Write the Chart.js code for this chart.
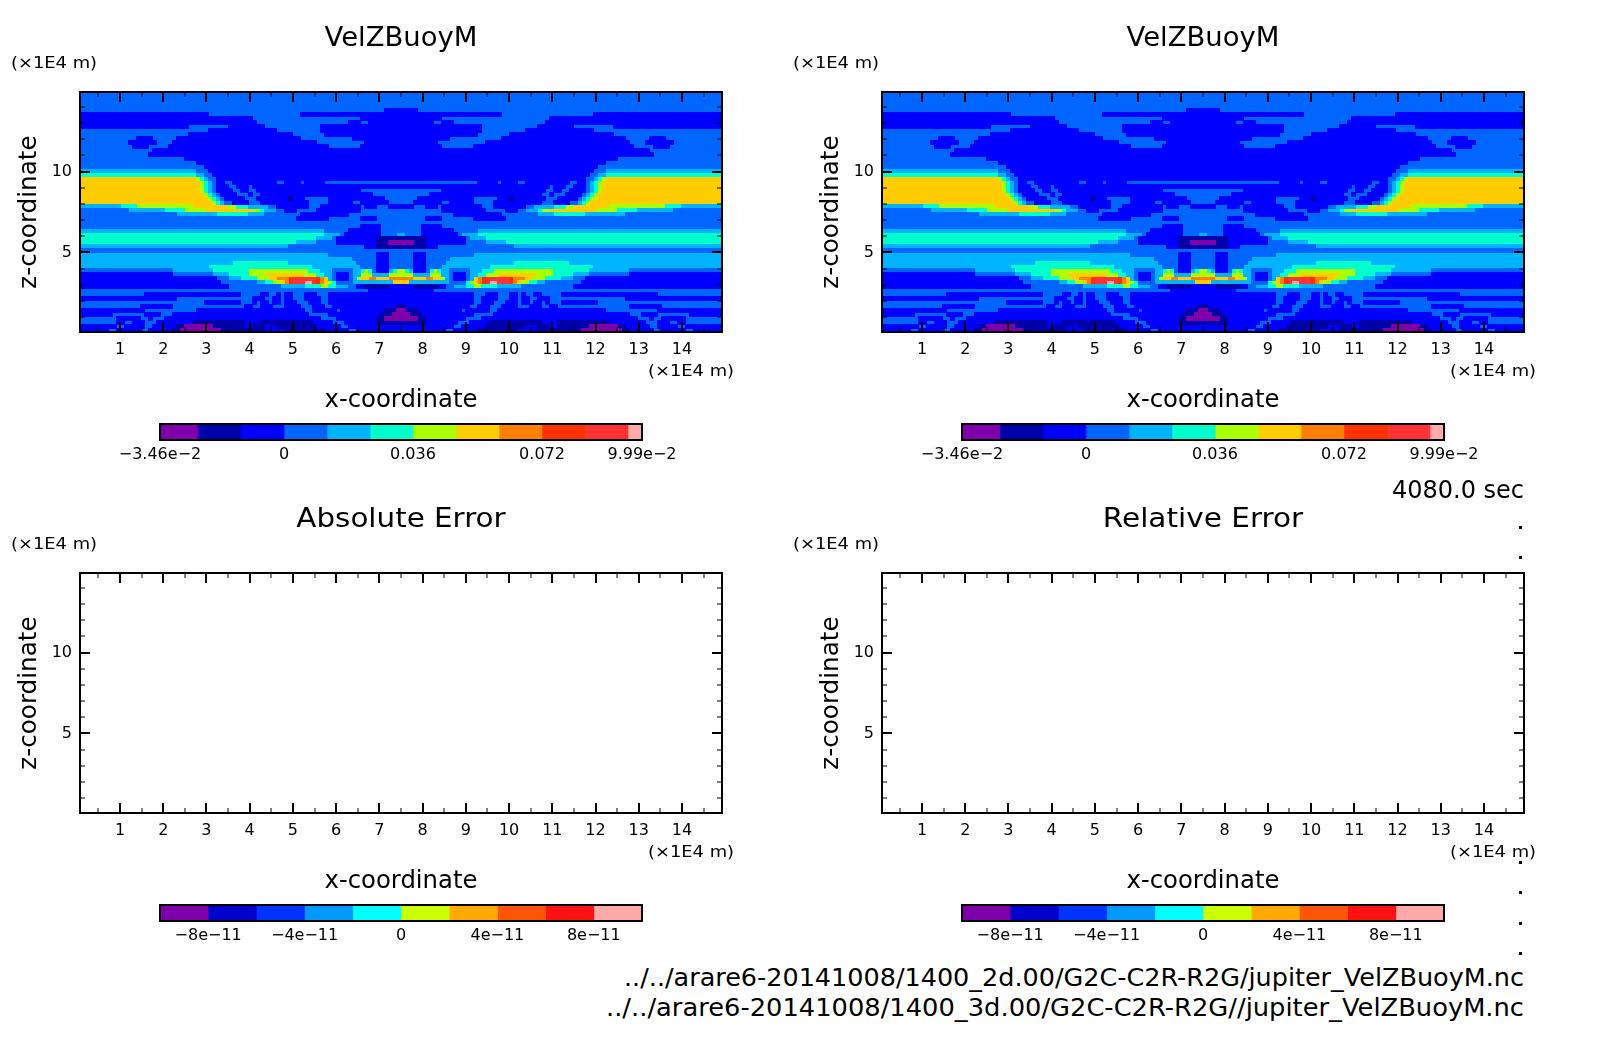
<!DOCTYPE html>
<html>
<head>
<meta charset="utf-8">
<title>VelZBuoyM</title>
<script src="https://cdn.jsdelivr.net/npm/chart.js@4"></script>
<style>
html, body { margin: 0; padding: 0; background: #fff; }
#page { position: relative; width: 1604px; height: 1054px; overflow: hidden; }
#page canvas { position: absolute; }
.txt { position: absolute; white-space: nowrap; color: #000; font-family: "DejaVu Sans", sans-serif; line-height: 1; }
.dot { position: absolute; width: 3px; height: 3px; background: #000; }
</style>
</head>
<body>
<div id="page"></div>
<script>
// axis range and ticks (x1E4 m)
const xRange = [0.075, 14.925];
const yRange = [0.075, 14.925];
const xTicks = [0.5, 1, 1.5, 2, 2.5, 3, 3.5, 4, 4.5, 5, 5.5, 6, 6.5, 7, 7.5, 8, 8.5, 9, 9.5, 10, 10.5, 11, 11.5, 12, 12.5, 13, 13.5, 14, 14.5];
const xTickLabels = [1, 2, 3, 4, 5, 6, 7, 8, 9, 10, 11, 12, 13, 14];
const yTicks = [1, 2, 3, 4, 5, 6, 7, 8, 9, 10, 11, 12, 13, 14];
const yTickLabels = [5, 10];

// colour bands, top row panels
const velLevels = 'abcdefghijkl';
const velColors = ['#7f00aa', '#0000aa', '#0000ff', '#0066ff', '#00b4ff', '#00ffcc', '#aaff00', '#ffcc00', '#ff7f00', '#ff3000', '#ff3333', '#ffaaaa'];
const velEdges = [-0.0346, -0.024, -0.012, 0, 0.012, 0.024, 0.036, 0.048, 0.06, 0.072, 0.084, 0.096, 0.0999];
const velBarTicks = [-0.0346, 0, 0.036, 0.072, 0.0999];
const velBarLabels = ['\u22123.46e\u22122', '0', '0.036', '0.072', '9.99e\u22122'];

// colour bands, error panels
const errColors = ['#7f00aa', '#0000cc', '#0033ff', '#0099ff', '#00ffff', '#ccff00', '#ffaa00', '#ff5500', '#ff1111', '#ffaaaa'];
const errEdges = [-1e-10, -8e-11, -6e-11, -4e-11, -2e-11, 0, 2e-11, 4e-11, 6e-11, 8e-11, 1e-10];
const errBarTicks = [-8e-11, -4e-11, 0, 4e-11, 8e-11];
const errBarLabels = ['\u22128e\u221211', '\u22124e\u221211', '0', '4e\u221211', '8e\u221211'];

// VelZBuoyM bands: west half of the domain (mirror symmetric),
// top row first, each row is run length coded as level + number of cells
const halfRows = [
  'd80', 'd80', 'd80', 'd80', 'd76 c4',
  'c32 d23 c25',
  'c43 d27 c10',
  'c44 d23 c3 d2 c8',
  'c27 d10 c9 d14 c20',
  'd32 c17 d11 c20',
  'd27 c26 d8 c19',
  'd14 c4 d6 c31 d13 c12',
  'd12 c7 d4 c36 d12 c9',
  'd13 c4 d5 c40 d8 c10',
  'd18 c62',
  'd17 c63',
  'd26 c54',
  'd29 c51',
  'd31 c49',
  'e29 d3 c48',
  'f29 e2 d2 c47',
  'h29 g1 f1 e1 d2 c46',
  'h30 g1 f1 e1 d1 c2 d2 c11 d2 c4 d1 c5 d19',
  'h30 g1 f1 e1 d1 c3 d2 c3 d1 c37',
  'h30 g1 f1 e1 d1 c4 d2 c2 d2 c26 d10',
  'h31 g1 f1 e1 d1 c4 d3 c1 d2 c28 d7',
  'h32 g1 f1 e1 d1 c5 d3 c8 b1 c3 d6 c14 d4',
  'h33 g1 f1 e1 d2 c4 d3 c12 d5 c6 d2 c7 d3',
  'e10 f4 g14 h9 g2 f3 e5 d2 c8 d3 c10 d1 c3 d3 c3',
  'd12 e9 f5 g5 h12 g2 f1 e3 d2 c3 d5 c11 d10',
  'd24 e10 f8 e4 d9 c12 d13',
  'd54 c8 d8 c4 d6',
  'd80',
  'd70 c5 d5',
  'e61 d6 c8 d5',
  'f61 e4 d1 c9 d4 e1',
  'f59 e4 d1 c10 b6',
  'f54 e5 d5 c10 b3 a3',
  'e52 d19 c3 b6',
  'd80',
  'e62 d12 c3 d3',
  'e68 d6 c3 d3',
  'e38 f14 e17 d5 c3 d3',
  'e32 f26 e12 d4 c3 d3',
  'd23 e10 f9 g15 f3 e3 d5 e2 f1 g1 f1 d1 c3 e1 f1 g1',
  'c23 d10 e4 f5 g4 h10 g3 f2 e2 d1 c3 d1 e2 g3 e4 g3',
  'c34 d3 e3 f4 g3 h2 i3 j1 k6 j1 i1 h1 e1 d1 c3 d1 e1 g1 h2 i2 h3 i3',
  'c35 d9 e2 f2 g2 h1 i1 j1 k3 l2 k1 j1 i1 h1 g1 f1 d4 e10 h2',
  'c37 d13 e6 f4 g2 f2 e3 d2 c2 b6 c3',
  'd72 c8',
  'd16 c24 d5 c2 d2 c1 d1 c2 d3 c3 d3 c18',
  'c24 d19 c3 d2 c2 d1 c2 d3 c4 d2 c18',
  'd31 c9 d3 c1 d1 c2 d1 c2 d1 c3 d3 c3 d2 c18',
  'd15 c8 d18 c2 d2 c3 d3 c4 d3 c3 d2 c16 b1',
  'c16 d13 c27 d2 c6 d1 c11 b3 a1',
  'c8 d8 c4 d3 c34 d5 c13 b3 a2',
  'd9 c6 d2 c1 d3 c39 d4 c10 b2 a4',
  'd9 c2 d2 c3 d3 c9 b13 c4 b13 c5 d3 c8 b6',
  'c9 d2 c5 d2 c6 b2 a7 b8 c2 b3 c3 b10 c6 d2 c13',
  'c7 d2 c6 d2 c6 b2 a10 b11 c5 b10 c6 d2 c11'
];

const page = document.getElementById('page');

function addText(str, cx, cy, size, width, rotate) {
  const el = document.createElement('span');
  el.className = 'txt';
  el.textContent = str;
  el.style.fontSize = size + 'px';
  el.style.left = cx + 'px';
  el.style.top = cy + 'px';
  page.appendChild(el);
  const sx = width / el.offsetWidth;
  el.style.transform = 'translate(-50%,-50%)' + (rotate ? ' rotate(-90deg)' : '') + ' scaleX(' + sx + ')';
}

function addCanvas(left, top, w, h) {
  const c = document.createElement('canvas');
  c.width = w;
  c.height = h;
  c.style.left = left + 'px';
  c.style.top = top + 'px';
  c.style.width = w + 'px';
  c.style.height = h + 'px';
  page.appendChild(c);
  return c;
}

function cellStyle(color) {
  const c = document.createElement('canvas');
  c.width = 5;
  c.height = 5;
  const g = c.getContext('2d');
  g.fillStyle = color;
  g.fillRect(0, 0, 5, 5);
  return c;
}

// one scatter dataset per colour band, cell centres in data coordinates
function buildFieldDatasets() {
  const nCols = 80;
  const dx = (xRange[1] - xRange[0]) / (2 * nCols);
  const dy = (yRange[1] - yRange[0]) / halfRows.length;
  const points = velColors.map(() => []);
  halfRows.forEach((row, r) => {
    const y = yRange[1] - (r + 0.5) * dy;
    let col = 0;
    row.split(' ').forEach(run => {
      const level = velLevels.indexOf(run[0]);
      const n = parseInt(run.slice(1));
      for (let i = 0; i < n; i++) {
        const x = xRange[0] + (col + 0.5) * dx;
        points[level].push({ x: x, y: y });
        points[level].push({ x: xRange[0] + xRange[1] - x, y: y });
        col++;
      }
    });
  });
  return points.map((pts, i) => ({
    data: pts,
    showLine: false,
    pointStyle: cellStyle(velColors[i]),
    pointRadius: 3
  }));
}

const framePlugin = {
  id: 'frame',
  beforeDatasetsDraw(chart) {
    chart.ctx.imageSmoothingEnabled = false;
  },
  afterDraw(chart) {
    const ctx = chart.ctx;
    const a = chart.chartArea;
    const sx = chart.scales.x;
    const sy = chart.scales.y;
    ctx.save();
    ctx.strokeStyle = '#000';
    ctx.lineWidth = 2;
    ctx.strokeRect(a.left, a.top, a.right - a.left, a.bottom - a.top);
    xTicks.forEach(v => {
      const major = xTickLabels.includes(v);
      const x = Math.round(sx.getPixelForValue(v));
      const len = major ? 10 : 5;
      ctx.lineWidth = major ? 2 : 1;
      ctx.beginPath();
      ctx.moveTo(x, a.top);
      ctx.lineTo(x, a.top + len);
      ctx.moveTo(x, a.bottom);
      ctx.lineTo(x, a.bottom - len);
      ctx.stroke();
    });
    yTicks.forEach(v => {
      const major = yTickLabels.includes(v);
      const y = Math.round(sy.getPixelForValue(v));
      const len = major ? 10 : 5;
      ctx.lineWidth = major ? 2 : 1;
      ctx.beginPath();
      ctx.moveTo(a.left, y);
      ctx.lineTo(a.left + len, y);
      ctx.moveTo(a.right, y);
      ctx.lineTo(a.right - len, y);
      ctx.stroke();
    });
    ctx.restore();
  }
};

function drawPanel(left, top, datasets) {
  const canvas = addCanvas(left, top, 802, 481);
  new Chart(canvas, {
    type: 'scatter',
    data: { datasets: datasets },
    plugins: [framePlugin],
    options: {
      responsive: false,
      animation: false,
      devicePixelRatio: 1,
      events: [],
      layout: { padding: { left: 20, right: 80, top: 92, bottom: 119 } },
      plugins: { legend: { display: false }, tooltip: { enabled: false } },
      scales: {
        x: {
          type: 'linear',
          min: xRange[0],
          max: xRange[1],
          afterBuildTicks: axis => { axis.ticks = xTicks.map(v => ({ value: v })); },
          afterFit: axis => { axis.height = 30; },
          grid: { display: false, drawTicks: false },
          border: { display: false },
          ticks: {
            autoSkip: false,
            maxRotation: 0,
            padding: 8,
            color: '#000',
            font: { family: 'DejaVu Sans', size: 16 },
            callback: v => (xTickLabels.includes(v) ? String(v) : '')
          }
        },
        y: {
          type: 'linear',
          min: yRange[0],
          max: yRange[1],
          afterBuildTicks: axis => { axis.ticks = yTicks.map(v => ({ value: v })); },
          afterFit: axis => { axis.width = 60; },
          grid: { display: false, drawTicks: false },
          border: { display: false },
          ticks: {
            autoSkip: false,
            padding: 8,
            color: '#000',
            font: { family: 'DejaVu Sans', size: 16 },
            callback: v => (yTickLabels.includes(v) ? String(v) : '')
          }
        }
      }
    }
  });
}

const barBorder = {
  id: 'barBorder',
  afterDraw(chart) {
    const a = chart.chartArea;
    chart.ctx.strokeStyle = '#000';
    chart.ctx.lineWidth = 2;
    chart.ctx.strokeRect(a.left, a.top, a.right - a.left, a.bottom - a.top);
  }
};

function drawColorBar(left, top, edges, colors, tickVals, tickLabels) {
  const canvas = addCanvas(left, top, 802, 52);
  new Chart(canvas, {
    type: 'bar',
    data: {
      labels: [''],
      datasets: colors.map((c, i) => ({
        data: [[edges[i], edges[i + 1]]],
        backgroundColor: c,
        barPercentage: 1,
        categoryPercentage: 1,
        grouped: false
      }))
    },
    plugins: [barBorder],
    options: {
      indexAxis: 'y',
      responsive: false,
      animation: false,
      devicePixelRatio: 1,
      events: [],
      layout: { padding: { left: 160, right: 160, top: 2, bottom: 6 } },
      plugins: { legend: { display: false }, tooltip: { enabled: false } },
      scales: {
        x: {
          type: 'linear',
          min: edges[0],
          max: edges[edges.length - 1],
          afterBuildTicks: axis => { axis.ticks = tickVals.map(v => ({ value: v })); },
          afterFit: axis => { axis.height = 28; },
          grid: { display: false, drawTicks: false },
          border: { display: false },
          ticks: {
            autoSkip: false,
            maxRotation: 0,
            padding: 5,
            color: '#000',
            font: { family: 'DejaVu Sans', size: 16 },
            callback: v => tickLabels[tickVals.indexOf(v)]
          }
        },
        y: { display: false }
      }
    }
  });
}

const columnOffset = 802;
const rowOffset = 481;

[0, 1].forEach(col => {
  const dx = col * columnOffset;
  drawPanel(dx, 0, buildFieldDatasets());
  drawPanel(dx, rowOffset, []);
  drawColorBar(dx, 422, velEdges, velColors, velBarTicks, velBarLabels);
  drawColorBar(dx, 903, errEdges, errColors, errBarTicks, errBarLabels);

  addText('VelZBuoyM', 401 + dx, 37, 26, 153);
  addText(col === 0 ? 'Absolute Error' : 'Relative Error', 401 + dx, 518, 26, col === 0 ? 209 : 201);
  [0, 1].forEach(row => {
    const dy = row * rowOffset;
    addText('(\u00d71E4 m)', 53.5 + col * 782, 63 + dy, 16, 86);
    addText('(\u00d71E4 m)', 691 + dx, 371 + dy, 16, 86);
    addText('x-coordinate', 401 + dx, 399 + dy, 24, 153);
    addText('z-coordinate', 27.5 + dx, 212 + dy, 24, 153, true);
  });
});

addText('4080.0 sec', 1458, 490, 24, 132);
addText('../../arare6-20141008/1400_2d.00/G2C-C2R-R2G/jupiter_VelZBuoyM.nc', 1074, 978, 24, 900);
addText('../../arare6-20141008/1400_3d.00/G2C-C2R-R2G//jupiter_VelZBuoyM.nc', 1065, 1008, 24, 918);

// stray marks down the right margin
[527, 557, 862, 892, 923, 953].forEach(y => {
  const d = document.createElement('div');
  d.className = 'dot';
  d.style.left = '1519px';
  d.style.top = (y - 1) + 'px';
  page.appendChild(d);
});
</script>
</body>
</html>
